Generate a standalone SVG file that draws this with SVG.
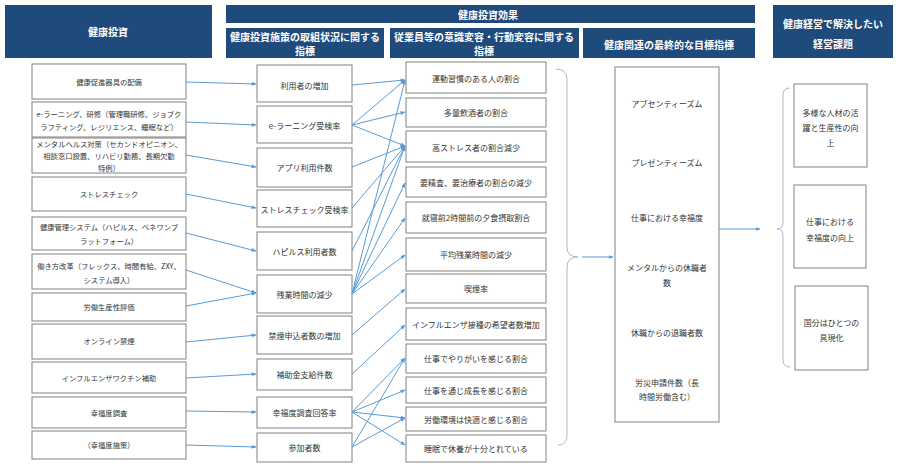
<svg xmlns="http://www.w3.org/2000/svg" width="900" height="473" viewBox="0 0 900 473">
<defs>
<style>
text{font-family:"Noto Sans CJK JP","Noto Sans CJK SC",sans-serif;text-anchor:middle;dominant-baseline:central}
.hdr{fill:#1f4a7c}
.ht{fill:#fff;font-weight:bold;font-size:10px}
.box{fill:#fff;stroke:#808080;stroke-width:1}
.t{font-size:8px;fill:#333}
.t1{font-size:7.3px;fill:#333}
.cn{stroke:#5b9bd5;stroke-width:1;fill:none;marker-end:url(#ah)}
.br{stroke:#a9b9cb;stroke-width:1;fill:none}
</style>
<marker id="ah" viewBox="0 0 10 10" refX="9" refY="5" markerWidth="5" markerHeight="5" orient="auto" markerUnits="userSpaceOnUse"><path d="M0,1 L10,5 L0,9 z" fill="#5b9bd5"/></marker>
</defs>
<rect width="900" height="473" fill="#fff"/>

<g id="headers">
<rect class="hdr" x="5" y="5" width="207" height="53"/>
<text class="ht" x="108" y="31">健康投資</text>
<rect class="hdr" x="226" y="5" width="529" height="18"/>
<text class="ht" x="488" y="14.5">健康投資効果</text>
<rect class="hdr" x="226" y="28" width="158" height="30"/>
<text class="ht" x="305" y="36">健康投資施策の取組状況に関する</text>
<text class="ht" x="305" y="50">指標</text>
<rect class="hdr" x="390" y="28" width="189" height="30"/>
<text class="ht" x="484" y="36">従業員等の意識変容・行動変容に関する</text>
<text class="ht" x="484" y="50">指標</text>
<rect class="hdr" x="583" y="28" width="172" height="30"/>
<text class="ht" x="669" y="44">健康関連の最終的な目標指標</text>
<rect class="hdr" x="773" y="5" width="120" height="53"/>
<text class="ht" x="833" y="23">健康経営で解決したい</text>
<text class="ht" x="833" y="43">経営課題</text>
</g>

<g id="col1">
<g id="a1"><rect class="box" x="32" y="64" width="154" height="35"/><text class="t1" x="109" y="82">健康促進器具の配備</text></g>
<g id="a2"><rect class="box" x="32" y="102" width="154" height="35"/><text class="t1" x="109" y="114">e-ラーニング、研修（管理職研修、ジョブク</text><text class="t1" x="109" y="127">ラフティング、レジリエンス、睡眠など）</text></g>
<g id="a3"><rect class="box" x="32" y="138" width="154" height="35"/><text class="t1" x="109" y="144">メンタルヘルス対策（セカンドオピニオン、</text><text class="t1" x="109" y="156">相談窓口設置、リハビリ勤務、長期欠勤</text><text class="t1" x="109" y="168">特例）</text></g>
<g id="a4"><rect class="box" x="32" y="177" width="154" height="34"/><text class="t1" x="109" y="194">ストレスチェック</text></g>
<g id="a5"><rect class="box" x="32" y="217" width="154" height="33"/><text class="t1" x="109" y="227">健康管理システム（ハピルス、ベネワンプ</text><text class="t1" x="109" y="241">ラットフォーム）</text></g>
<g id="a6"><rect class="box" x="32" y="254" width="154" height="35"/><text class="t1" x="109" y="266">働き方改革（フレックス、時間有給、ZXY、</text><text class="t1" x="109" y="280">システム導入）</text></g>
<g id="a7"><rect class="box" x="32" y="293" width="154" height="28"/><text class="t1" x="109" y="307">労働生産性評価</text></g>
<g id="a8"><rect class="box" x="32" y="324" width="154" height="35"/><text class="t1" x="109" y="341">オンライン禁煙</text></g>
<g id="a9"><rect class="box" x="32" y="362" width="154" height="31"/><text class="t1" x="109" y="377.5">インフルエンザワクチン補助</text></g>
<g id="a10"><rect class="box" x="32" y="397" width="154" height="31"/><text class="t1" x="109" y="412.5">幸福度調査</text></g>
<g id="a11"><rect class="box" x="32" y="431" width="154" height="28"/><text class="t1" x="109" y="445">（幸福度施策）</text></g>
</g>

<g id="col2">
<g id="b1"><rect class="box" x="257" y="65" width="95" height="37"/><text class="t" x="304.5" y="85">利用者の増加</text></g>
<g id="b2"><rect class="box" x="257" y="106" width="95" height="37"/><text class="t" x="304.5" y="125">e-ラーニング受検率</text></g>
<g id="b3"><rect class="box" x="257" y="148" width="95" height="39"/><text class="t" x="304.5" y="167">アプリ利用件数</text></g>
<g id="b4"><rect class="box" x="257" y="190" width="95" height="37"/><text class="t" x="304.5" y="209">ストレスチェック受検率</text></g>
<g id="b5"><rect class="box" x="257" y="232" width="95" height="38"/><text class="t" x="304.5" y="251">ハピルス利用者数</text></g>
<g id="b6"><rect class="box" x="257" y="275" width="95" height="38"/><text class="t" x="304.5" y="294">残業時間の減少</text></g>
<g id="b7"><rect class="box" x="257" y="316" width="95" height="38"/><text class="t" x="304.5" y="335">禁煙申込者数の増加</text></g>
<g id="b8"><rect class="box" x="257" y="359" width="95" height="31"/><text class="t" x="304.5" y="374.5">補助金支給件数</text></g>
<g id="b9"><rect class="box" x="257" y="397" width="95" height="31"/><text class="t" x="304.5" y="412.5">幸福度調査回答率</text></g>
<g id="b10"><rect class="box" x="257" y="433" width="95" height="29"/><text class="t" x="304.5" y="447.5">参加者数</text></g>
</g>

<g id="col3">
<g id="c1"><rect class="box" x="406" y="62" width="140" height="31"/><text class="t" x="476" y="78">運動習慣のある人の割合</text></g>
<g id="c2"><rect class="box" x="406" y="98" width="140" height="29"/><text class="t" x="476" y="112">多量飲酒者の割合</text></g>
<g id="c3"><rect class="box" x="406" y="131" width="140" height="31"/><text class="t" x="476" y="147">高ストレス者の割合減少</text></g>
<g id="c4"><rect class="box" x="406" y="167" width="140" height="30"/><text class="t" x="476" y="182">要精査、要治療者の割合の減少</text></g>
<g id="c5"><rect class="box" x="406" y="202" width="140" height="31"/><text class="t" x="476" y="217.5">就寝前2時間前の夕食摂取割合</text></g>
<g id="c6"><rect class="box" x="406" y="238" width="140" height="33"/><text class="t" x="476" y="254.5">平均残業時間の減少</text></g>
<g id="c7"><rect class="box" x="406" y="274" width="140" height="29"/><text class="t" x="476" y="288.5">喫煙率</text></g>
<g id="c8"><rect class="box" x="406" y="308" width="140" height="32"/><text class="t" x="476" y="324">インフルエンザ接種の希望者数増加</text></g>
<g id="c9"><rect class="box" x="406" y="344" width="140" height="29"/><text class="t" x="476" y="358.5">仕事でやりがいを感じる割合</text></g>
<g id="c10"><rect class="box" x="406" y="377" width="140" height="26"/><text class="t" x="476" y="390">仕事を通じ成長を感じる割合</text></g>
<g id="c11"><rect class="box" x="406" y="407" width="140" height="24"/><text class="t" x="476" y="419">労働環境は快適と感じる割合</text></g>
<g id="c12"><rect class="box" x="406" y="435" width="140" height="27"/><text class="t" x="476" y="448.5">睡眠で休養が十分とれている</text></g>
</g>

<g id="col4">
<rect class="box" x="615" y="67" width="104" height="355"/>
<text class="t" x="667" y="103">アブセンティーズム</text>
<text class="t" x="667" y="162">プレゼンティーズム</text>
<text class="t" x="667" y="217">仕事における幸福度</text>
<text class="t" x="667" y="267">メンタルからの休職者</text>
<text class="t" x="667" y="282">数</text>
<text class="t" x="667" y="332">休職からの退職者数</text>
<text class="t" x="667" y="382">労災申請件数（長</text>
<text class="t" x="667" y="396">時間労働含む）</text>
</g>

<g id="col5">
<g id="e1"><rect class="box" x="794" y="84" width="73" height="83"/><text class="t" x="830.5" y="112">多様な人材の活</text><text class="t" x="830.5" y="127">躍と生産性の向</text><text class="t" x="830.5" y="142">上</text></g>
<g id="e2"><rect class="box" x="794" y="185" width="72" height="83"/><text class="t" x="830" y="221">仕事における</text><text class="t" x="830" y="237">幸福度の向上</text></g>
<g id="e3"><rect class="box" x="795" y="286" width="73" height="84"/><text class="t" x="831.5" y="322">国分はひとつの</text><text class="t" x="831.5" y="337">具現化</text></g>
</g>

<g id="connectors">
<path class="br" d="M556,69 Q567,69 567,79 L567,247 Q567,257 578,257 Q567,257 567,267 L567,435 Q567,445 558,445"/>
<path class="br" d="M790,88 Q783,88 783,95 L783,222 Q783,229 777,229 Q783,229 783,236 L783,360 Q783,367 790,367"/>
<line class="cn" x1="582" y1="257" x2="613" y2="257"/>
<line class="cn" x1="719" y1="229" x2="760" y2="229"/>

<line class="cn" x1="186" y1="82" x2="256" y2="84"/>
<line class="cn" x1="186" y1="122" x2="256" y2="125"/>
<line class="cn" x1="186" y1="155" x2="256" y2="167"/>
<line class="cn" x1="186" y1="194" x2="256" y2="208"/>
<line class="cn" x1="186" y1="233" x2="256" y2="251"/>
<line class="cn" x1="186" y1="270" x2="256" y2="293"/>
<line class="cn" x1="186" y1="306" x2="256" y2="293"/>
<line class="cn" x1="186" y1="342" x2="256" y2="335"/>
<line class="cn" x1="186" y1="378" x2="256" y2="374"/>
<line class="cn" x1="186" y1="411" x2="256" y2="412"/>
<line class="cn" x1="186" y1="445" x2="256" y2="447"/>

<line class="cn" x1="352" y1="85" x2="405" y2="80"/>
<line class="cn" x1="352" y1="125" x2="405" y2="80"/>
<line class="cn" x1="352" y1="125" x2="405" y2="112"/>
<line class="cn" x1="352" y1="125" x2="405" y2="146"/>
<line class="cn" x1="352" y1="167" x2="405" y2="146"/>
<line class="cn" x1="352" y1="208" x2="405" y2="146"/>
<line class="cn" x1="352" y1="251" x2="405" y2="146"/>
<line class="cn" x1="352" y1="294" x2="405" y2="80"/>
<line class="cn" x1="352" y1="294" x2="405" y2="146"/>
<line class="cn" x1="352" y1="294" x2="405" y2="183"/>
<line class="cn" x1="352" y1="294" x2="405" y2="218"/>
<line class="cn" x1="352" y1="294" x2="405" y2="255"/>
<line class="cn" x1="352" y1="335" x2="405" y2="289"/>
<line class="cn" x1="352" y1="374" x2="405" y2="325"/>
<line class="cn" x1="352" y1="412" x2="405" y2="358"/>
<line class="cn" x1="352" y1="412" x2="405" y2="390"/>
<line class="cn" x1="352" y1="412" x2="405" y2="418"/>
<line class="cn" x1="352" y1="412" x2="405" y2="445"/>
<line class="cn" x1="352" y1="447" x2="405" y2="358"/>
<line class="cn" x1="352" y1="447" x2="405" y2="418"/>
</g>
</svg>
